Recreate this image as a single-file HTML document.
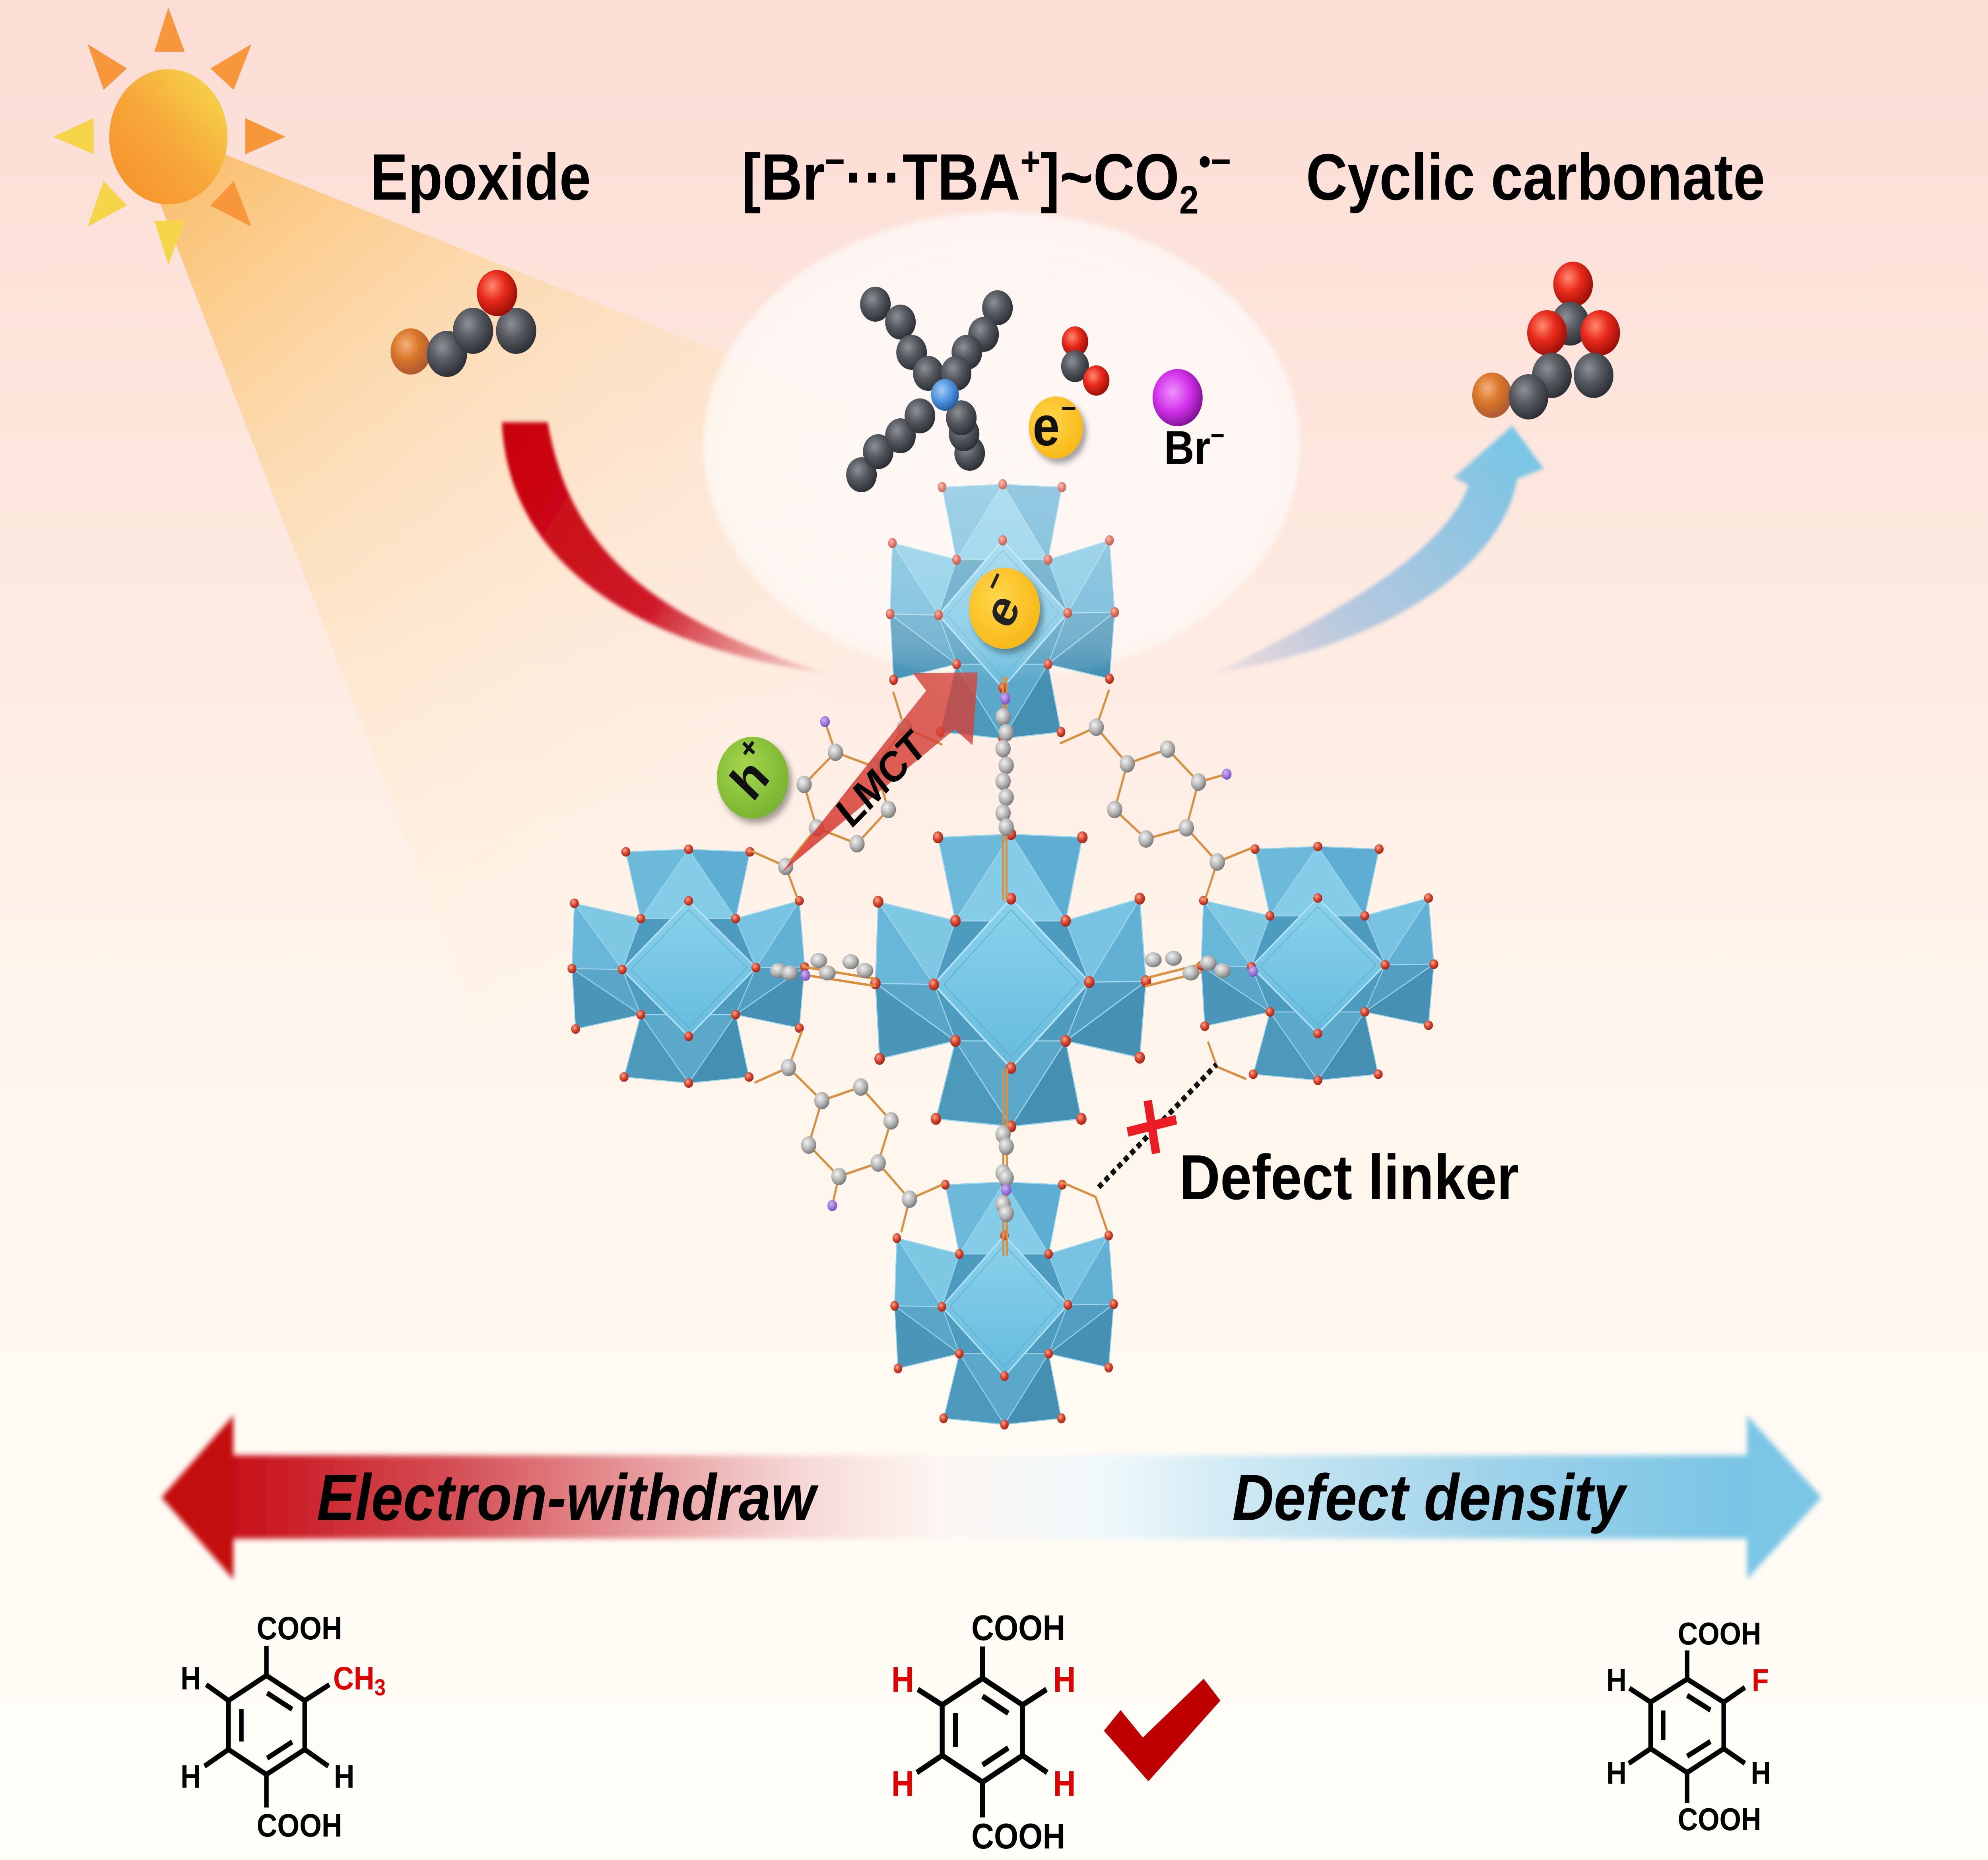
<!DOCTYPE html>
<html><head><meta charset="utf-8">
<style>
html,body{margin:0;padding:0;background:#fff;overflow:hidden;width:100%;height:100%;}
svg{display:block;position:absolute;left:0;top:0;width:100vw;height:100vh;}
text{font-family:"Liberation Sans",Arial,sans-serif;font-weight:bold;}
</style></head>
<body>
<svg viewBox="0 0 5716 4678" preserveAspectRatio="none" xmlns="http://www.w3.org/2000/svg">
<defs>
 <linearGradient id="bg" x1="0" y1="0" x2="0" y2="1">
  <stop offset="0" stop-color="#fcddd6"/>
  <stop offset="0.25" stop-color="#fde6dd"/>
  <stop offset="0.5" stop-color="#fff3ea"/>
  <stop offset="0.75" stop-color="#fffaf2"/>
  <stop offset="1" stop-color="#fffef9"/>
 </linearGradient>
 <linearGradient id="beam" gradientUnits="userSpaceOnUse" x1="480" y1="340" x2="2000" y2="2300">
  <stop offset="0" stop-color="#f9b860" stop-opacity="0.95"/>
  <stop offset="0.15" stop-color="#fbc676" stop-opacity="0.8"/>
  <stop offset="0.4" stop-color="#fcd9a0" stop-opacity="0.55"/>
  <stop offset="0.7" stop-color="#fde9c8" stop-opacity="0.3"/>
  <stop offset="1" stop-color="#fff3e0" stop-opacity="0"/>
 </linearGradient>
 <linearGradient id="sun" gradientUnits="userSpaceOnUse" x1="330" y1="500" x2="640" y2="190">
  <stop offset="0" stop-color="#f7902c"/>
  <stop offset="0.5" stop-color="#f7a83a"/>
  <stop offset="1" stop-color="#f5d94c"/>
 </linearGradient>
 <linearGradient id="redArr" gradientUnits="userSpaceOnUse" x1="1450" y1="1060" x2="2370" y2="1690">
  <stop offset="0" stop-color="#c8000a"/>
  <stop offset="0.55" stop-color="#cc1020" stop-opacity="0.95"/>
  <stop offset="1" stop-color="#d44a58" stop-opacity="0.15"/>
 </linearGradient>
 <linearGradient id="blueArr" gradientUnits="userSpaceOnUse" x1="3491" y1="1694" x2="4348" y2="1071">
  <stop offset="0" stop-color="#8a92cc" stop-opacity="0.1"/>
  <stop offset="0.35" stop-color="#8ab4dc" stop-opacity="0.6"/>
  <stop offset="1" stop-color="#78c6e6" stop-opacity="1"/>
 </linearGradient>
 <linearGradient id="shaft" gradientUnits="userSpaceOnUse" x1="671" y1="0" x2="5023" y2="0">
  <stop offset="0" stop-color="#c8101a"/>
  <stop offset="0.145" stop-color="#d44e54"/>
  <stop offset="0.28" stop-color="#e8a0a2"/>
  <stop offset="0.375" stop-color="#f6d8d6"/>
  <stop offset="0.466" stop-color="#fdf6f2"/>
  <stop offset="0.58" stop-color="#eef8fb"/>
  <stop offset="0.67" stop-color="#cde8f3"/>
  <stop offset="0.83" stop-color="#9fd3ea"/>
  <stop offset="1" stop-color="#78c4e4"/>
 </linearGradient>
 <linearGradient id="lmct" gradientUnits="userSpaceOnUse" x1="2247" y1="2195" x2="2811" y2="1691">
  <stop offset="0" stop-color="#d8352c" stop-opacity="0.85"/>
  <stop offset="1" stop-color="#d2453c" stop-opacity="0.8"/>
 </linearGradient>
 <radialGradient id="bub" cx="0.5" cy="0.5" r="0.5">
  <stop offset="0" stop-color="#ffffff" stop-opacity="0.55"/>
  <stop offset="0.9" stop-color="#ffffff" stop-opacity="0.5"/>
  <stop offset="1" stop-color="#ffffff" stop-opacity="0.35"/>
 </radialGradient>
 <linearGradient id="bubTop" gradientUnits="userSpaceOnUse" x1="0" y1="1200" x2="0" y2="1720">
  <stop offset="0" stop-color="#ffffff" stop-opacity="0.35"/>
  <stop offset="0.8" stop-color="#ffffff" stop-opacity="0.2"/>
  <stop offset="1" stop-color="#ffffff" stop-opacity="0"/>
 </linearGradient>
 <linearGradient id="gD" x1="0" y1="0" x2="0" y2="1">
  <stop offset="0" stop-color="#8ad2ec"/>
  <stop offset="1" stop-color="#66bbdd"/>
 </linearGradient>
 <radialGradient id="gC" cx="0.38" cy="0.35" r="0.65">
  <stop offset="0" stop-color="#8d9197"/>
  <stop offset="0.5" stop-color="#55595f"/>
  <stop offset="1" stop-color="#2e3136"/>
 </radialGradient>
 <radialGradient id="gOx" cx="0.38" cy="0.35" r="0.65">
  <stop offset="0" stop-color="#ff8a70"/>
  <stop offset="0.5" stop-color="#e82a1c"/>
  <stop offset="1" stop-color="#a01008"/>
 </radialGradient>
 <radialGradient id="gBr" cx="0.38" cy="0.35" r="0.65">
  <stop offset="0" stop-color="#f5b07a"/>
  <stop offset="0.5" stop-color="#d9762a"/>
  <stop offset="1" stop-color="#b05a30"/>
 </radialGradient>
 <radialGradient id="gN" cx="0.38" cy="0.35" r="0.65">
  <stop offset="0" stop-color="#a0ccf5"/>
  <stop offset="0.6" stop-color="#4a8fdc"/>
  <stop offset="1" stop-color="#2a5fa0"/>
 </radialGradient>
 <radialGradient id="gP" cx="0.4" cy="0.4" r="0.65">
  <stop offset="0" stop-color="#f090ff"/>
  <stop offset="0.55" stop-color="#d030e8"/>
  <stop offset="1" stop-color="#7a1090"/>
 </radialGradient>
 <radialGradient id="gG" cx="0.38" cy="0.35" r="0.65">
  <stop offset="0" stop-color="#f2f2f2"/>
  <stop offset="0.6" stop-color="#b4b4b4"/>
  <stop offset="1" stop-color="#7c7c7c"/>
 </radialGradient>
 <radialGradient id="gPu" cx="0.38" cy="0.35" r="0.65">
  <stop offset="0" stop-color="#d0b4f5"/>
  <stop offset="1" stop-color="#7a52c0"/>
 </radialGradient>
 <radialGradient id="gO" cx="0.38" cy="0.35" r="0.65">
  <stop offset="0" stop-color="#f6a890"/>
  <stop offset="0.55" stop-color="#d8452e"/>
  <stop offset="1" stop-color="#a02818"/>
 </radialGradient>
 <radialGradient id="gY" cx="0.4" cy="0.38" r="0.65">
  <stop offset="0" stop-color="#ffd64a"/>
  <stop offset="1" stop-color="#f8b818"/>
 </radialGradient>
 <radialGradient id="gGr" cx="0.4" cy="0.38" r="0.65">
  <stop offset="0" stop-color="#a6d64e"/>
  <stop offset="1" stop-color="#78b430"/>
 </radialGradient>
 <filter id="blur4" x="-20%" y="-20%" width="140%" height="140%"><feGaussianBlur stdDeviation="5"/></filter>
 <filter id="blur8" x="-10%" y="-30%" width="120%" height="160%"><feGaussianBlur stdDeviation="7"/></filter>
 <filter id="bblur" x="-10%" y="-10%" width="120%" height="120%"><feGaussianBlur stdDeviation="6"/></filter>
 <filter id="sh" x="-30%" y="-30%" width="160%" height="160%"><feDropShadow dx="10" dy="12" stdDeviation="8" flood-color="#000" flood-opacity="0.35"/></filter>

 <g id="cl">
  <path d="M-210,-362 L0,-370 L205,-362 L157,-152 L370,-208 L388,0 L370,192 L157,150 L202,346 L0,365 L-216,346 L-160,150 L-378,195 L-390,5 L-382,-200 L-160,-152 Z" fill="#4d9cbf"/>
  <g stroke="#9dd5ea" stroke-width="3" stroke-linejoin="round">
   <polygon points="-210,-362 0,-370 -160,-152" fill="#6db9da"/>
   <polygon points="0,-370 157,-152 -160,-152" fill="#84cce7"/>
   <polygon points="0,-370 205,-362 157,-152" fill="#5eadd2"/>
   <polygon points="-382,-200 -160,-152 -222,8" fill="#7fc8e4"/>
   <polygon points="-382,-200 -222,8 -390,5" fill="#68b6d8"/>
   <polygon points="-390,5 -222,8 -160,150" fill="#5aa6c9"/>
   <polygon points="-390,5 -160,150 -378,195" fill="#4a95b8"/>
   <polygon points="370,-208 157,-152 225,2" fill="#78c3e1"/>
   <polygon points="370,-208 225,2 388,0" fill="#62b1d5"/>
   <polygon points="388,0 225,2 157,150" fill="#539fc3"/>
   <polygon points="388,0 157,150 370,192" fill="#4590b3"/>
   <polygon points="-160,150 157,150 0,365" fill="#5ba8ca"/>
   <polygon points="-216,346 -160,150 0,365" fill="#4c99bc"/>
   <polygon points="0,365 157,150 202,346" fill="#448fb2"/>
  </g>
  <polygon points="0,-208 225,2 0,218 -222,8" fill="url(#gD)" stroke="#b3e2f2" stroke-width="5" stroke-linejoin="round"/>
  <polygon points="0,-180 195,2 0,190 -193,8" fill="none" stroke="#5fa9c8" stroke-width="2"/>
  <g fill="url(#gO)">
   <circle cx="-210" cy="-362" r="15"/><circle cx="0" cy="-370" r="15"/><circle cx="205" cy="-362" r="15"/>
   <circle cx="-160" cy="-152" r="15"/><circle cx="157" cy="-152" r="15"/>
   <circle cx="0" cy="-208" r="15"/><circle cx="225" cy="2" r="15"/><circle cx="0" cy="218" r="15"/><circle cx="-222" cy="8" r="15"/>
   <circle cx="370" cy="-208" r="15"/><circle cx="388" cy="0" r="15"/><circle cx="370" cy="192" r="15"/>
   <circle cx="157" cy="150" r="15"/><circle cx="-160" cy="150" r="15"/>
   <circle cx="202" cy="346" r="15"/><circle cx="0" cy="365" r="15"/><circle cx="-216" cy="346" r="15"/>
   <circle cx="-378" cy="195" r="15"/><circle cx="-390" cy="5" r="15"/><circle cx="-382" cy="-200" r="15"/>
  </g>
 </g>
</defs>

<!-- background -->
<rect width="5716" height="4678" fill="url(#bg)"/>

<!-- light beam -->
<polygon points="480,330 2650,1088 2600,1500 1500,2860 420,420" fill="url(#beam)"/>

<!-- sun -->
<g>
 <polygon points="484,19 444,130 531,130" fill="#f7963a"/>
 <polygon points="723,111 605,172 672,226" fill="#f7963a"/>
 <polygon points="821,344 705,297 705,388" fill="#f7963a"/>
 <polygon points="723,570 605,517 672,455" fill="#f7963a"/>
 <polygon points="484,666 444,555 531,555" fill="#f5d54a"/>
 <polygon points="252,570 365,517 298,455" fill="#f5d54a"/>
 <polygon points="153,344 269,297 269,388" fill="#f5d54a"/>
 <polygon points="252,111 365,172 298,226" fill="#f7963a"/>
 <circle cx="484" cy="344" r="170" fill="url(#sun)"/>
</g>

<!-- curved arrows -->
<path d="M1443,1062 C1460,1400 1800,1620 2371,1693 C1900,1560 1640,1400 1575,1062 Z" fill="url(#redArr)" filter="url(#blur4)"/>
<path d="M3491,1694 C3800,1560 4150,1400 4223,1220 L4180,1201 L4348,1071 L4438,1178 L4362,1205 C4320,1420 4000,1620 3491,1694 Z" fill="url(#blueArr)" filter="url(#blur4)"/>

<!-- bubble (behind clusters) -->
<ellipse cx="2880" cy="1121" rx="857" ry="587" fill="url(#bub)" filter="url(#bblur)"/>

<!-- clusters -->
<use href="#cl" transform="translate(1980,2432) scale(0.86,0.80)"/>
<use href="#cl" transform="translate(3789,2425) scale(0.86,0.80)"/>
<use href="#cl" transform="translate(2888,3280) scale(0.81,0.83)"/>
<use href="#cl" transform="translate(2907,2468)"/>
<use href="#cl" transform="translate(2883,1540) scale(0.83,0.87)"/>

<!-- linkers -->
<g stroke="#d99040" stroke-width="6" fill="none" stroke-linecap="round">
 <polyline points="2160,2140 2259,2179 2295,2265"/>
 <line x1="2259" y1="2179" x2="2348" y2="2082"/>
 <polygon points="2402,1892 2312,1973 2348,2082 2464,2122 2554,2036 2518,1930"/>
 <line x1="2402" y1="1892" x2="2372" y2="1815"/>
 <line x1="2518" y1="1930" x2="2600" y2="1830"/>
 <polyline points="2569,1742 2600,1830 2707,1872"/>
 <polyline points="3188,1737 3152,1829 3050,1869"/>
 <line x1="3152" y1="1829" x2="3241" y2="1921"/>
 <polygon points="3241,1921 3357,1884 3446,1967 3411,2082 3295,2110 3205,2036"/>
 <line x1="3446" y1="1967" x2="3527" y2="1947"/>
 <line x1="3411" y1="2082" x2="3500" y2="2168"/>
 <polyline points="3598,2133 3500,2168 3464,2265"/>
 <polyline points="2305,2595 2267,2685 2172,2722"/>
 <line x1="2267" y1="2685" x2="2363" y2="2768"/>
 <polygon points="2363,2768 2475,2734 2562,2819 2525,2925 2412,2959 2325,2880"/>
 <line x1="2412" y1="2959" x2="2393" y2="3032"/>
 <line x1="2525" y1="2925" x2="2615" y2="3016"/>
 <polyline points="2708,2980 2615,3016 2592,3097"/>
 <polyline points="3474,2622 3499,2683 3581,2713"/>
 <polyline points="3054,2974 3150,3010 3183,3095"/>
 <line x1="2884" y1="1705" x2="2884" y2="2262"/>
 <line x1="2894" y1="1705" x2="2894" y2="2262"/>
 <line x1="2885" y1="2690" x2="2885" y2="3156"/>
 <line x1="2895" y1="2690" x2="2895" y2="3156"/>
 <line x1="2313" y1="2432" x2="2517" y2="2462"/>
 <line x1="2313" y1="2452" x2="2517" y2="2480"/>
 <line x1="3295" y1="2460" x2="3454" y2="2425"/>
 <line x1="3295" y1="2480" x2="3454" y2="2445"/>
</g>
<g fill="url(#gG)">
 <circle cx="2259" cy="2179" r="22"/>
 <circle cx="2402" cy="1892" r="22"/><circle cx="2312" cy="1973" r="22"/><circle cx="2348" cy="2082" r="22"/>
 <circle cx="2464" cy="2122" r="22"/><circle cx="2554" cy="2036" r="22"/><circle cx="2518" cy="1930" r="22"/>
 <circle cx="2600" cy="1830" r="22"/>
 <circle cx="3152" cy="1829" r="22"/>
 <circle cx="3241" cy="1921" r="22"/><circle cx="3357" cy="1884" r="22"/><circle cx="3446" cy="1967" r="22"/>
 <circle cx="3411" cy="2082" r="22"/><circle cx="3295" cy="2110" r="22"/><circle cx="3205" cy="2036" r="22"/>
 <circle cx="3500" cy="2168" r="22"/>
 <circle cx="2267" cy="2685" r="22"/>
 <circle cx="2363" cy="2768" r="22"/><circle cx="2475" cy="2734" r="22"/><circle cx="2562" cy="2819" r="22"/>
 <circle cx="2525" cy="2925" r="22"/><circle cx="2412" cy="2959" r="22"/><circle cx="2325" cy="2880" r="22"/>
 <circle cx="2615" cy="3016" r="22"/>
 <circle cx="2884" cy="1803" r="22"/><circle cx="2893" cy="1843" r="22"/><circle cx="2884" cy="1883" r="22"/>
 <circle cx="2893" cy="1925" r="22"/><circle cx="2884" cy="1965" r="22"/><circle cx="2893" cy="2005" r="22"/>
 <circle cx="2884" cy="2045" r="22"/><circle cx="2893" cy="2080" r="22"/>
 <circle cx="2884" cy="2853" r="22"/><circle cx="2893" cy="2883" r="22"/><circle cx="2884" cy="2950" r="22"/>
 <circle cx="2893" cy="2962" r="22"/><circle cx="2884" cy="3028" r="22"/><circle cx="2893" cy="3052" r="22"/>
 <ellipse cx="2238" cy="2441" rx="24" ry="19"/><ellipse cx="2271" cy="2447" rx="24" ry="19"/>
 <ellipse cx="2354" cy="2416" rx="24" ry="19"/><ellipse cx="2379" cy="2447" rx="24" ry="19"/>
 <ellipse cx="2446" cy="2419" rx="24" ry="19"/><ellipse cx="2487" cy="2441" rx="24" ry="19"/>
 <ellipse cx="3316" cy="2414" rx="24" ry="19"/><ellipse cx="3374" cy="2410" rx="24" ry="19"/>
 <ellipse cx="3424" cy="2447" rx="24" ry="19"/><ellipse cx="3474" cy="2422" rx="24" ry="19"/>
 <ellipse cx="3515" cy="2441" rx="24" ry="19"/>
</g>
<g fill="url(#gPu)">
 <circle cx="2372" cy="1815" r="14"/>
 <circle cx="3527" cy="1947" r="14"/>
 <circle cx="2393" cy="3032" r="14"/>
 <circle cx="2890" cy="1757" r="15"/>
 <circle cx="2893" cy="2992" r="15"/>
 <circle cx="2316" cy="2453" r="14"/>
 <circle cx="3603" cy="2443" r="14"/>
</g>

<!-- LMCT arrow -->
<polygon points="2247,2195 2663,1737 2625,1693 2811,1691 2796,1874 2745,1834" fill="url(#lmct)"/>

<!-- light bubble overlay on top cluster upper part -->
<ellipse cx="2880" cy="1121" rx="857" ry="587" fill="url(#bubTop)" filter="url(#bblur)"/>

<!-- e- in top cluster -->
<circle cx="2888" cy="1530" r="102" fill="url(#gY)" filter="url(#sh)"/>
<g transform="translate(2888,1530) rotate(-62)">
 <text x="-8" y="40" font-size="130" text-anchor="middle" fill="#222">e</text>
 <text x="48" y="-30" font-size="80" text-anchor="middle" fill="#222">−</text>
</g>

<!-- h+ -->
<circle cx="2164" cy="1956" r="103" fill="url(#gGr)" filter="url(#sh)"/>
<g transform="translate(2164,1956) rotate(-50)">
 <text x="-8" y="42" font-size="135" text-anchor="middle" fill="#111">h</text>
 <text x="50" y="-30" font-size="80" text-anchor="middle" fill="#111">+</text>
</g>

<!-- LMCT label -->
<text transform="translate(2533,1958) rotate(-42)" x="0" y="38" font-size="108" text-anchor="middle" fill="#000">LMCT</text>

<!-- defect -->
<line x1="3159" y1="2986" x2="3498" y2="2677" stroke="#111" stroke-width="14" stroke-dasharray="14 11"/>
<line x1="3242" y1="2847" x2="3382" y2="2816" stroke="#ec1c24" stroke-width="24"/>
<line x1="3300" y1="2768" x2="3324" y2="2901" stroke="#ec1c24" stroke-width="24"/>
<text x="3391" y="3016" font-size="160" fill="#000" textLength="976" lengthAdjust="spacingAndGlyphs">Defect linker</text>

<!-- epoxide -->
<g>
 <circle cx="1181" cy="884" r="58" fill="url(#gBr)"/>
 <circle cx="1285" cy="890" r="58" fill="url(#gC)"/>
 <circle cx="1360" cy="832" r="58" fill="url(#gC)"/>
 <circle cx="1484" cy="832" r="58" fill="url(#gC)"/>
 <circle cx="1429" cy="737" r="58" fill="url(#gOx)"/>
</g>

<!-- TBA -->
<g fill="url(#gC)">
 <circle cx="2517" cy="765" r="44"/><circle cx="2589" cy="810" r="44"/><circle cx="2621" cy="886" r="44"/><circle cx="2669" cy="939" r="44"/>
 <circle cx="2868" cy="774" r="44"/><circle cx="2828" cy="841" r="44"/><circle cx="2780" cy="886" r="44"/><circle cx="2749" cy="939" r="44"/>
 <circle cx="2788" cy="1140" r="44"/><circle cx="2772" cy="1091" r="44"/><circle cx="2764" cy="1051" r="44"/>
 <circle cx="2477" cy="1194" r="44"/><circle cx="2525" cy="1136" r="44"/><circle cx="2589" cy="1096" r="44"/><circle cx="2645" cy="1046" r="44"/>
</g>
<circle cx="2717" cy="993" r="40" fill="url(#gN)"/>

<!-- CO2 -->
<circle cx="3091" cy="859" r="38" fill="url(#gOx)"/>
<circle cx="3091" cy="921" r="40" fill="url(#gC)"/>
<circle cx="3152" cy="957" r="38" fill="url(#gOx)"/>

<!-- e- small -->
<circle cx="3036" cy="1075" r="78" fill="url(#gY)" filter="url(#sh)"/>
<text x="3008" y="1120" font-size="140" text-anchor="middle" fill="#111">e</text>
<text x="3073" y="1052" font-size="75" text-anchor="middle" fill="#111">−</text>

<!-- Br- -->
<circle cx="3386" cy="1000" r="72" fill="url(#gP)"/>
<text x="3347" y="1167" font-size="120" fill="#000">Br<tspan font-size="70" dy="-48">−</tspan></text>

<!-- cyclic carbonate -->
<g>
 <circle cx="4523" cy="715" r="57" fill="url(#gOx)"/>
 <circle cx="4515" cy="814" r="55" fill="url(#gC)"/>
 <circle cx="4448" cy="837" r="57" fill="url(#gOx)"/>
 <circle cx="4601" cy="837" r="57" fill="url(#gOx)"/>
 <circle cx="4290" cy="994" r="57" fill="url(#gBr)"/>
 <circle cx="4582" cy="944" r="57" fill="url(#gC)"/>
 <circle cx="4462" cy="944" r="57" fill="url(#gC)"/>
 <circle cx="4395" cy="998" r="57" fill="url(#gC)"/>
</g>

<!-- top titles -->
<text x="1064" y="502" font-size="165" fill="#000" textLength="635" lengthAdjust="spacingAndGlyphs">Epoxide</text>
<text x="2133" y="502" font-size="165" fill="#000">[Br<tspan font-size="100" dy="-62">−</tspan><tspan dy="62">···TBA</tspan><tspan font-size="100" dy="-62">+</tspan><tspan dy="62">]~CO</tspan><tspan font-size="100" dy="35">2</tspan><tspan font-size="100" dy="-97">•−</tspan></text>
<text x="3755" y="502" font-size="165" fill="#000" textLength="1320" lengthAdjust="spacingAndGlyphs">Cyclic carbonate</text>

<!-- bottom double arrow -->
<g filter="url(#blur8)">
 <rect x="660" y="3660" width="4375" height="210" fill="url(#shaft)"/>
 <polygon points="464,3766 671,3560 671,3972" fill="#c40c10"/>
 <polygon points="5238,3766 5023,3560 5023,3972" fill="#7cc6e5"/>
</g>
<text x="911" y="3823" font-size="165" font-style="italic" fill="#000" textLength="1434" lengthAdjust="spacingAndGlyphs">Electron-withdraw</text>
<text x="3543" y="3823" font-size="165" font-style="italic" fill="#000" textLength="1130" lengthAdjust="spacingAndGlyphs">Defect density</text>

<!-- molecule 1 -->
<g stroke="#000" stroke-width="13" fill="none" stroke-linejoin="miter">
 <line x1="766" y1="4139" x2="766" y2="4214"/>
 <polygon points="766,4214 876,4277 876,4400 766,4463 657,4400 657,4277"/>
 <line x1="768" y1="4258" x2="840" y2="4299"/>
 <line x1="694" y1="4299" x2="694" y2="4380"/>
 <line x1="768" y1="4422" x2="840" y2="4381"/>
 <line x1="657" y1="4277" x2="593" y2="4237"/>
 <line x1="876" y1="4277" x2="947" y2="4237"/>
 <line x1="657" y1="4400" x2="588" y2="4442"/>
 <line x1="876" y1="4400" x2="944" y2="4442"/>
 <line x1="766" y1="4463" x2="766" y2="4546"/>
</g>
<g font-size="82" fill="#000">
 <text x="738" y="4123">COOH</text>
 <text x="519" y="4249">H</text>
 <text x="958" y="4249" fill="#e00000">CH<tspan font-size="58" dy="15">3</tspan></text>
 <text x="519" y="4496">H</text>
 <text x="960" y="4496">H</text>
 <text x="738" y="4619">COOH</text>
</g>

<!-- molecule 2 -->
<g stroke="#000" stroke-width="14" fill="none">
 <line x1="2825" y1="4141" x2="2825" y2="4221"/>
 <polygon points="2825,4221 2940,4288 2940,4415 2825,4482 2709,4415 2709,4288"/>
 <line x1="2825" y1="4266" x2="2899" y2="4309"/>
 <line x1="2747" y1="4309" x2="2747" y2="4394"/>
 <line x1="2825" y1="4439" x2="2899" y2="4396"/>
 <line x1="2709" y1="4288" x2="2639" y2="4249"/>
 <line x1="2940" y1="4288" x2="3009" y2="4249"/>
 <line x1="2709" y1="4415" x2="2636" y2="4458"/>
 <line x1="2940" y1="4415" x2="3011" y2="4458"/>
 <line x1="2825" y1="4482" x2="2825" y2="4571"/>
</g>
<g font-size="90" fill="#000">
 <text x="2793" y="4125">COOH</text>
 <text x="2793" y="4649">COOH</text>
 <text x="2563" y="4255" fill="#e00000">H</text>
 <text x="3028" y="4255" fill="#e00000">H</text>
 <text x="2563" y="4517" fill="#e00000">H</text>
 <text x="3028" y="4517" fill="#e00000">H</text>
</g>

<!-- check mark -->
<polygon points="3174,4353 3222,4301 3286,4370 3461,4222 3509,4277 3302,4480" fill="#bf0000"/>

<!-- molecule 3 -->
<g stroke="#000" stroke-width="13" fill="none">
 <line x1="4851" y1="4151" x2="4851" y2="4223"/>
 <polygon points="4851,4223 4956,4281 4956,4398 4851,4458 4746,4398 4746,4281"/>
 <line x1="4851" y1="4264" x2="4918" y2="4301"/>
 <line x1="4782" y1="4302" x2="4782" y2="4377"/>
 <line x1="4851" y1="4417" x2="4918" y2="4380"/>
 <line x1="4746" y1="4281" x2="4685" y2="4246"/>
 <line x1="4956" y1="4281" x2="5017" y2="4244"/>
 <line x1="4746" y1="4398" x2="4683" y2="4435"/>
 <line x1="4956" y1="4398" x2="5017" y2="4435"/>
 <line x1="4851" y1="4458" x2="4851" y2="4534"/>
</g>
<g font-size="80" fill="#000">
 <text x="4824" y="4136">COOH</text>
 <text x="4824" y="4603">COOH</text>
 <text x="4619" y="4253">H</text>
 <text x="5037" y="4253" fill="#e00000">F</text>
 <text x="4619" y="4486">H</text>
 <text x="5034" y="4486">H</text>
</g>
</svg>
</body></html>
